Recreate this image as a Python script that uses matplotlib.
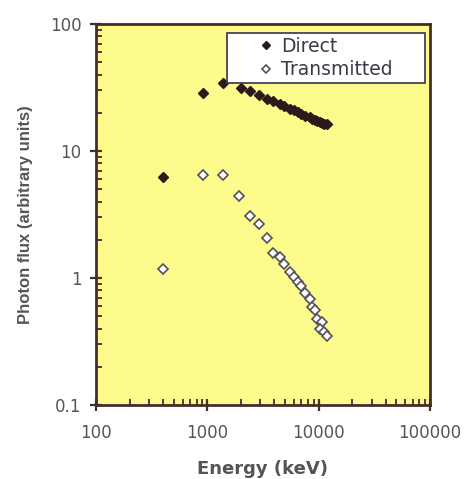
import numpy as np
import matplotlib
matplotlib.use("Agg")
import matplotlib.pyplot as plt
from matplotlib.ticker import LogLocator, NullFormatter, FixedLocator, FixedFormatter

# ---------------------------------------------------------------
# Data (energy in keV, flux arb. units)
# ---------------------------------------------------------------
direct_energy = [401, 918, 1390, 2000, 2430, 2930, 3460, 3860, 4460, 4850,
                 5490, 5970, 6480, 6960, 7600, 8320, 8740, 9360, 9690,
                 10230, 10750, 11120, 11930]
direct_flux = [6.24, 28.6, 34.3, 31.5, 29.8, 27.6, 25.8, 24.6, 23.3, 22.6,
               21.6, 20.9, 20.3, 19.7, 19.0, 18.4, 18.0, 17.6, 17.3,
               17.0, 16.7, 16.4, 16.3]

trans_energy = [401, 918, 1390, 1937, 2432, 2931, 3459, 3863, 4463, 4851,
                5494, 5967, 6481, 6955, 7605, 8315, 8737, 9355, 9690,
                10750, 10230, 11120, 11930]
trans_flux = [1.18, 6.47, 6.47, 4.43, 3.08, 2.66, 2.07, 1.56, 1.47, 1.29,
              1.12, 1.02, 0.935, 0.865, 0.758, 0.680, 0.594, 0.560, 0.473,
              0.453, 0.395, 0.378, 0.349]

x_ticks = [100, 1000, 10000, 100000]
x_labels = ["100", "1000", "10000", "100000"]
y_ticks = [0.1, 1, 10, 100]
y_labels = ["0.1", "1", "10", "100"]

frame_col = "#4a2b2b"
text_col = "#555555"

fig = plt.figure(figsize=(4.69, 4.79), dpi=100)
ax = fig.add_axes([0.2047, 0.1545, 0.712, 0.7954])
ax.set_facecolor("#fdfb8c")

ax.plot(direct_energy, direct_flux, linestyle="none", marker="D",
        markersize=5.5, color="#2a1a1a", markeredgecolor="#2a1a1a",
        label="Direct")
ax.plot(trans_energy, trans_flux, linestyle="none", marker="D",
        markersize=5.5, markerfacecolor="white", markeredgecolor="#555060",
        markeredgewidth=1.2, label="Transmitted")

ax.set_xscale("log")
ax.set_yscale("log")
ax.set_xlim(100, 100000)
ax.set_ylim(0.1, 100)

ax.xaxis.set_major_locator(FixedLocator(x_ticks))
ax.xaxis.set_major_formatter(FixedFormatter(x_labels))
ax.yaxis.set_major_locator(FixedLocator(y_ticks))
ax.yaxis.set_major_formatter(FixedFormatter(y_labels))
ax.xaxis.set_minor_locator(LogLocator(base=10, subs=np.arange(2, 10)))
ax.yaxis.set_minor_locator(LogLocator(base=10, subs=np.arange(2, 10)))
ax.xaxis.set_minor_formatter(NullFormatter())
ax.yaxis.set_minor_formatter(NullFormatter())

ax.tick_params(which="major", direction="inout", length=9, width=1.6,
               color=frame_col, labelsize=12, labelcolor=text_col, pad=6)
ax.tick_params(axis="x", which="major", pad=9)
ax.tick_params(which="minor", direction="in", length=4, width=1.3,
               color=frame_col)
for lab in ax.get_xticklabels() + ax.get_yticklabels():
    lab.set_family("DejaVu Sans")

for side in ax.spines.values():
    side.set_color(frame_col)
    side.set_linewidth(2)

ax.set_xlabel("Energy (keV)", fontsize=13, fontweight="bold",
              family="DejaVu Sans", color="#555555", labelpad=13)
ax.set_ylabel("Photon flux (arbitrary units)", fontsize=12, fontweight="bold",
              family="Liberation Sans", color="#555555", labelpad=12)

# legend box spans roughly x 227..425, y 32..83 px in the reference
leg = ax.legend(loc="upper left", bbox_to_anchor=(0.392, 0.977, 0.593, 0.0),
                mode="expand", frameon=True, fancybox=False, fontsize=13.5,
                handlelength=3.8, handletextpad=-1.1, borderpad=0.2,
                labelspacing=0.25, markerscale=0.75, borderaxespad=0)
leg.get_frame().set_edgecolor("#3a3050")
leg.get_frame().set_linewidth(1.2)
leg.get_frame().set_alpha(1)
for t in leg.get_texts():
    t.set_color("#3a3a4a")

fig.savefig("out.png", dpi=100, facecolor="white")
